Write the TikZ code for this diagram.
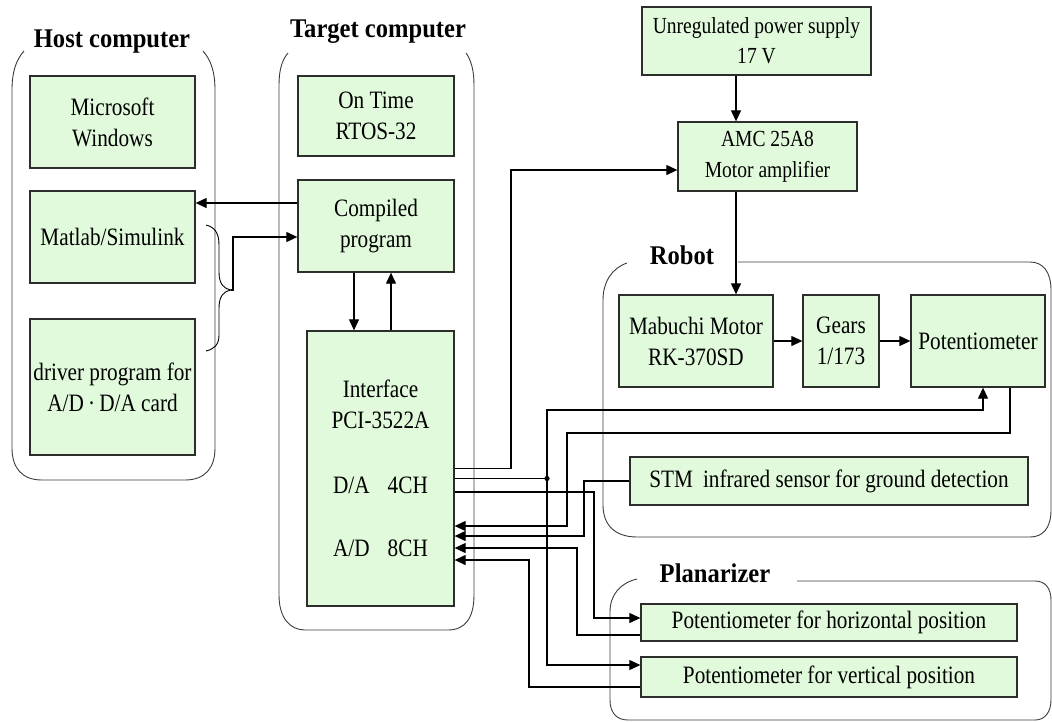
\documentclass[tikz,border=0pt]{standalone}
\usepackage{fontspec}
\setmainfont[FakeStretch=0.85]{Liberation Serif}
\newfontfamily\ttlfont[FakeStretch=0.91]{Liberation Serif}
\usetikzlibrary{arrows.meta}
\definecolor{boxfill}{RGB}{226,250,220}
\definecolor{edge}{RGB}{45,45,45}
\definecolor{grpline}{RGB}{60,60,60}
\begin{document}
\begin{tikzpicture}[x=1pt,y=-1pt,
  box/.style={draw=edge, line width=1.3pt, fill=boxfill, inner sep=0pt,
    align=center, font=\fontsize{25}{31}\selectfont},
  boxtext/.style={inner sep=0pt, align=center, font=\fontsize{25}{31}\selectfont},
  grp/.style={draw=grpline, line width=0.9pt},
  ttl/.style={inner sep=0pt, font=\ttlfont\bfseries\fontsize{27}{30}\selectfont},
  wire/.style={line width=1.15pt},
  arr/.style={wire, -{Triangle[length=11pt,width=10pt]}}]

% canvas
\fill[white] (0,0) rectangle (1052,721);
\useasboundingbox (0,0) rectangle (1052,721);

% ---------- group outlines (open at the title) ----------
\draw[grp] (24,51) .. controls (16,60) and (12,72) .. (12,90) -- (12,448)
  .. controls (12,468) and (22,480) .. (42,480) -- (185,480)
  .. controls (205,480) and (215,468) .. (215,448) -- (215,90)
  .. controls (215,72) and (211,60) .. (203,51);
\draw[grp] (288,53) .. controls (282,60) and (279,70) .. (279,85) -- (279,595)
  .. controls (279,618) and (290,630) .. (305,630) -- (448,630)
  .. controls (465,630) and (474,618) .. (474,595) -- (474,85)
  .. controls (474,70) and (471,60) .. (466,53);
\draw[grp] (738,262) -- (1030,262) .. controls (1043,262) and (1051,272) .. (1051,290)
  -- (1051,510) .. controls (1051,528) and (1043,537) .. (1030,537) -- (637,537)
  .. controls (615,537) and (603,525) .. (603,505) -- (603,300)
  .. controls (603,282) and (612,268) .. (627,263);
\draw[grp] (797,581) -- (1035,581) .. controls (1045,581) and (1051,588) .. (1051,600)
  -- (1051,700) .. controls (1051,712) and (1045,720) .. (1035,720) -- (628,720)
  .. controls (616,720) and (610,712) .. (610,700) -- (610,612)
  .. controls (610,595) and (620,583) .. (637,579);

\node[ttl] (hostT) at (112,42) {Host computer};
\node[ttl] (targT) at (378,32) {Target computer};
\node[ttl] (robT) at (682,255) {Robot};
\node[ttl] (plaT) at (715,573) {Planarizer};

% ---------- blocks ----------
\node[box, minimum width=165pt, minimum height=92pt] (win) at (112.5,122) {Microsoft\\Windows};
\node[box, minimum width=165pt, minimum height=92pt] (mat) at (112.5,237) {Matlab/Simulink};
\node[box, minimum width=165pt, minimum height=136pt] (drv) at (112.5,387) {driver program for\\A/D\,·\,D/A card};

\node[box, minimum width=156pt, minimum height=80pt] (rtos) at (376,116) {On Time\\RTOS-32};
\node[box, minimum width=156pt, minimum height=92pt] (comp) at (376,226) {Compiled\\program};
\node[box, minimum width=147pt, minimum height=275pt] (pci) at (380.5,468.5) {};
\node[boxtext] (pciT) at (pci.center)
  {Interface\\PCI-3522A\\[34pt]D/A\hspace{18pt}4CH\\[32pt]A/D\hspace{18pt}8CH};

\node[box, minimum width=229pt, minimum height=68pt, font=\fontsize{23}{30}\selectfont] (psu) at (756.5,41) {Unregulated power supply\\17 V};
\node[box, minimum width=179pt, minimum height=69pt, font=\fontsize{23}{31}\selectfont] (amc) at (767.5,156.5) {AMC 25A8\\Motor amplifier};

\node[box, minimum width=154pt, minimum height=92pt] (mab) at (696,341) {Mabuchi Motor\\RK-370SD};
\node[box, minimum width=76pt, minimum height=92pt] (gear) at (841,341) {Gears\\1/173};
\node[box, minimum width=134pt, minimum height=92pt] (pot) at (978,341) {Potentiometer};
\node[box, minimum width=398pt, minimum height=48pt] (stm) at (829,481) {STM\hspace{10pt}infrared sensor for ground detection};

\node[box, minimum width=376pt, minimum height=37pt] (poth) at (829,622.5) {Potentiometer for horizontal position};
\node[box, minimum width=376pt, minimum height=40pt] (potv) at (829,677) {Potentiometer for vertical position};

% ---------- brace grouping the host programs ----------
\coordinate (brTip) at (231,290);
\draw[line width=0.9pt] (206,225) .. controls (214,227) and (219,232) .. (219,245) -- (219,272)
  .. controls (219,284) and (224,289) .. (brTip)
  .. controls (224,291) and (219,296) .. (219,308) -- (219,335)
  .. controls (219,345) and (214,349) .. (206,351);

% ---------- host / target links ----------
\draw[arr] ([yshift=23pt]comp.west) -- ([yshift=34pt]mat.east);
\draw[arr] (brTip) -- ++(2,0) |- ([yshift=-11pt]comp.west);
\draw[arr] ([xshift=-22pt]comp.south) -- ([xshift=-26.5pt]pci.north);
\draw[arr] ([xshift=10.5pt]pci.north) -- ([xshift=15pt]comp.south);

% ---------- power path ----------
\draw[arr] ([xshift=-20.5pt]psu.south) -- ([xshift=-31.5pt]amc.north);
\draw[arr] ([xshift=-31.5pt]amc.south) -- ([xshift=40pt]mab.north);
\draw[arr] (mab.east) -- (gear.west);
\draw[arr] (gear.east) -- (pot.west);

% ---------- card ports ----------
\coordinate (da1) at (pci.east);
\coordinate (da2) at ([yshift=-10pt]pci.east);
\coordinate (da3) at ([yshift=-23.5pt]pci.east);
\coordinate (ad1) at ([yshift=-57.5pt]pci.east);
\coordinate (ad2) at ([yshift=-67.5pt]pci.east);
\coordinate (ad3) at ([yshift=-79.5pt]pci.east);
\coordinate (ad4) at ([yshift=-91.5pt]pci.east);

% wire bends
\coordinate (bA) at (511,170);
\coordinate (jn) at (547,478.5);
\coordinate (b1) at (983,410);
\coordinate (bC) at (594,550);
\coordinate (bD) at (567,433);
\coordinate (bE) at (584,500);
\coordinate (bF) at (577,600);
\coordinate (bG) at (529,620);

% D/A outputs
\draw[arr] (da1) -| (bA) -- ([yshift=-13.5pt]amc.west);
\draw[wire] (da2) -- (jn);
\fill (jn) circle (2.6pt);
\draw[arr] (jn) |- (b1) -- (b1 |- pot.south);
\draw[arr] (jn) |- ([yshift=12pt]potv.west);
\draw[arr] (da3) -| (bC) |- ([yshift=4.5pt]poth.west);

% A/D inputs
\draw[arr] ([xshift=32pt]pot.south) |- (bD) |- (ad1);
\draw[arr] (stm.west) -| (bE) |- (ad2);
\draw[arr] ([yshift=-12.5pt]poth.west) -| (bF) |- (ad3);
\draw[arr] ([yshift=-10pt]potv.west) -| (bG) |- (ad4);
\end{tikzpicture}
\end{document}
